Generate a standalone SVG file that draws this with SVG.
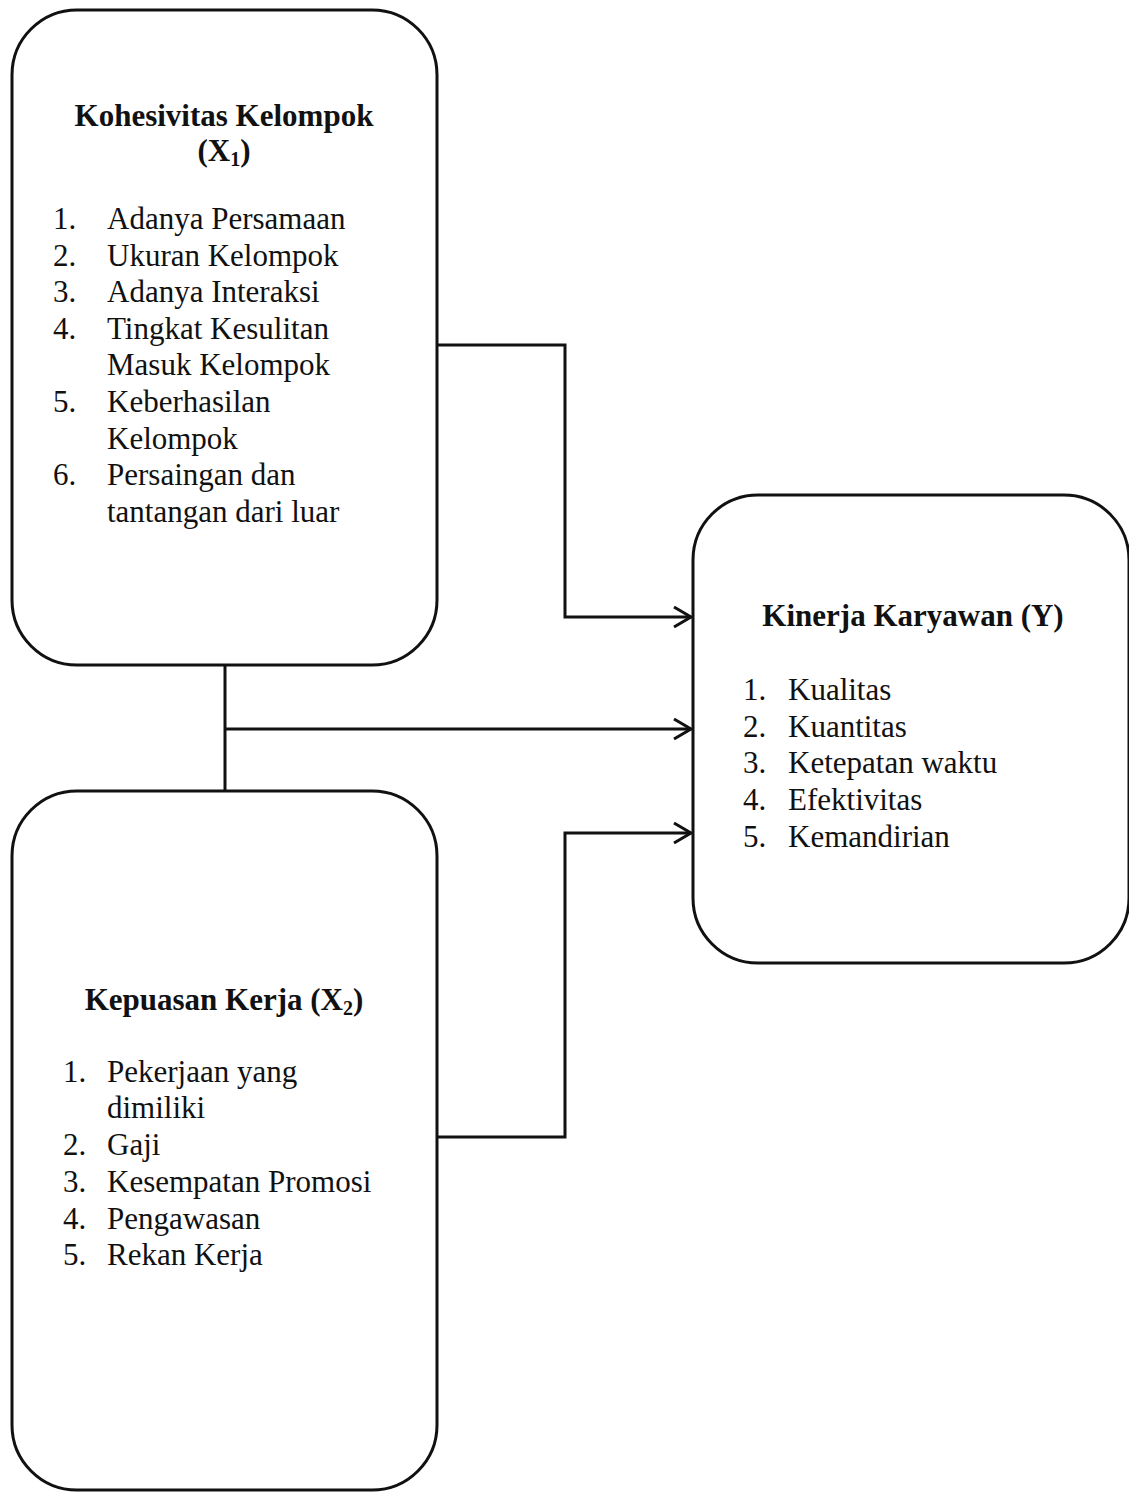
<svg xmlns="http://www.w3.org/2000/svg" width="1129" height="1492" viewBox="0 0 1129 1492">
<style>
.box{fill:#fff;stroke:#111;stroke-width:3}
.con{fill:none;stroke:#111;stroke-width:3}
text{font-family:"Liberation Serif","Times New Roman",serif;fill:#111;font-size:31px}
.t{font-weight:bold;text-anchor:middle}
</style>
<defs>
<marker id="arr" markerUnits="userSpaceOnUse" markerWidth="24" markerHeight="26" viewBox="0 0 24 26" refX="20" refY="13" orient="auto">
<path d="M3,3 L20,13 L3,23" fill="none" stroke="#111" stroke-width="3"/>
</marker>
</defs>
<rect width="1129" height="1492" fill="#fff"/>
<g id="connectors">
<polyline class="con" points="437,345 565,345 565,617 691,617" marker-end="url(#arr)"/>
<line class="con" x1="225" y1="665" x2="225" y2="791"/>
<line class="con" x1="225" y1="729" x2="691" y2="729" marker-end="url(#arr)"/>
<polyline class="con" points="437,1137 565,1137 565,833 691,833" marker-end="url(#arr)"/>
</g>
<g id="node-x1">
<rect class="box" x="12" y="10" width="425" height="655" rx="65" ry="65"/>
<text class="t" x="224" y="126">Kohesivitas Kelompok</text>
<text class="t" x="224" y="161">(X<tspan font-size="20" dy="5">1</tspan><tspan dy="-5">)</tspan></text>
<text x="53" y="229">1.</text><text x="107" y="229">Adanya Persamaan</text>
<text x="53" y="266">2.</text><text x="107" y="266">Ukuran Kelompok</text>
<text x="53" y="302">3.</text><text x="107" y="302">Adanya Interaksi</text>
<text x="53" y="339">4.</text><text x="107" y="339">Tingkat Kesulitan</text>
<text x="107" y="375">Masuk Kelompok</text>
<text x="53" y="412">5.</text><text x="107" y="412">Keberhasilan</text>
<text x="107" y="449">Kelompok</text>
<text x="53" y="485">6.</text><text x="107" y="485">Persaingan dan</text>
<text x="107" y="522">tantangan dari luar</text>
</g>
<g id="node-x2">
<rect class="box" x="12" y="791" width="425" height="699" rx="65" ry="65"/>
<text class="t" x="224" y="1010">Kepuasan Kerja (X<tspan font-size="20" dy="5">2</tspan><tspan dy="-5">)</tspan></text>
<text x="63" y="1082">1.</text><text x="107" y="1082">Pekerjaan yang</text>
<text x="107" y="1118">dimiliki</text>
<text x="63" y="1155">2.</text><text x="107" y="1155">Gaji</text>
<text x="63" y="1192">3.</text><text x="107" y="1192">Kesempatan Promosi</text>
<text x="63" y="1229">4.</text><text x="107" y="1229">Pengawasan</text>
<text x="63" y="1265">5.</text><text x="107" y="1265">Rekan Kerja</text>
</g>
<g id="node-y">
<rect class="box" x="693" y="495" width="436" height="468" rx="65" ry="65"/>
<text class="t" x="913" y="626">Kinerja Karyawan (Y)</text>
<text x="743" y="700">1.</text><text x="788" y="700">Kualitas</text>
<text x="743" y="737">2.</text><text x="788" y="737">Kuantitas</text>
<text x="743" y="773">3.</text><text x="788" y="773">Ketepatan waktu</text>
<text x="743" y="810">4.</text><text x="788" y="810">Efektivitas</text>
<text x="743" y="847">5.</text><text x="788" y="847">Kemandirian</text>
</g>
</svg>
